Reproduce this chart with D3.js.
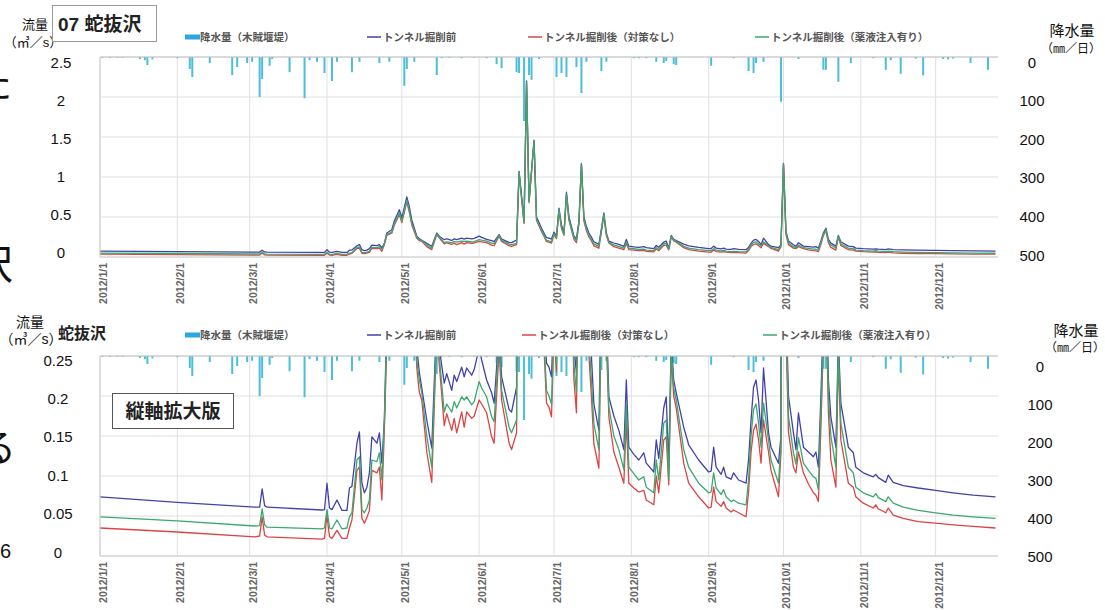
<!DOCTYPE html>
<html>
<head>
<meta charset="utf-8">
<script src="https://cdn.jsdelivr.net/npm/d3@7"></script>
<style>
  body { margin: 0; background: #fff; }
  svg { font-family: "Liberation Sans", "Noto Sans CJK JP", sans-serif; }
</style>
</head>
<body>
<svg id="chart" width="1105" height="610"></svg>
<script>
// day of year (0 = 2012/1/1) for the flow readings
const flowDay = [0,31,62,64,65,66,67,89,90,91,92,93,95,97,99,100,101,103,104,105,106,107,108,109,111,112,113,114,115,117,118,120,121,123,124,125,127,128,129,131,133,135,136,138,139,141,142,143,145,146,147,149,150,152,153,155,157,158,160,161,164,165,167,168,170,171,172,174,175,177,178,179,180,181,182,183,184,185,186,187,188,189,190,191,192,193,194,195,196,197,198,200,202,203,204,206,208,210,211,212,214,216,218,219,222,223,224,226,227,228,229,230,231,234,236,240,244,245,246,247,249,250,251,253,254,256,259,260,261,262,263,264,265,266,268,269,272,273,274,275,276,278,279,280,282,284,286,287,288,289,290,291,292,293,295,296,297,300,302,303,306,310,311,312,315,316,318,322,328,335,342,350,359];
// トンネル掘削前
const flowBefore = [.074,.067,.061,.061,.084,.063,.061,.0575,.058,.091,.060,.058,.070,.057,.057,.085,.087,.141,.155,.091,.079,.086,.104,.149,.141,.154,.116,.170,.30,.34,.45,.59,.49,.75,.63,.46,.26,.23,.21,.17,.135,.30,.26,.216,.228,.207,.226,.218,.236,.224,.235,.226,.233,.26,.245,.22,.204,.191,.28,.224,.183,.18,.211,1.07,.46,2.2,.71,1.46,.50,.36,.30,.241,.236,.224,.31,.26,.61,.40,.30,.81,.50,.38,.26,.229,.45,1.17,.50,.38,.30,.25,.19,.157,.55,.30,.199,.175,.157,.133,.22,.136,.127,.12,.129,.116,.105,.145,.122,.185,.199,.111,.27,.22,.204,.161,.139,.12,.105,.106,.136,.111,.102,.111,.099,.096,.104,.095,.091,.12,.17,.211,.22,.195,.154,.235,.154,.136,.116,.15,1.17,.32,.20,.154,.133,.179,.136,.13,.124,.13,.111,.20,.30,.36,.22,.174,.136,.27,.191,.136,.129,.111,.104,.099,.102,.098,.092,.101,.092,.088,.085,.082,.079,.076,.074];
// トンネル掘削後（薬液注入有り）
const flowGrout = [.049,.044,.0375,.038,.059,.039,.036,.034,.035,.058,.035,.034,.045,.034,.035,.049,.054,.120,.124,.058,.054,.060,.070,.120,.118,.129,.095,.170,.28,.31,.42,.55,.45,.71,.58,.42,.245,.22,.204,.15,.111,.29,.25,.18,.19,.18,.193,.185,.199,.195,.199,.189,.193,.218,.21,.199,.174,.168,.27,.207,.161,.154,.17,1.06,.43,2.18,.69,1.45,.47,.33,.27,.207,.20,.19,.29,.24,.59,.37,.28,.79,.47,.35,.24,.204,.43,1.16,.47,.35,.27,.22,.165,.133,.53,.28,.186,.15,.133,.108,.19,.111,.103,.095,.099,.086,.079,.12,.095,.166,.17,.095,.26,.21,.195,.133,.111,.091,.079,.08,.104,.085,.077,.083,.074,.068,.07,.066,.064,.095,.15,.183,.19,.166,.136,.191,.145,.12,.091,.14,1.16,.30,.175,.129,.115,.148,.116,.107,.099,.097,.083,.18,.28,.34,.20,.15,.111,.26,.166,.111,.104,.086,.079,.074,.078,.073,.068,.074,.066,.061,.057,.054,.051,.049,.047];
// トンネル掘削後（対策なし）
const flowNoMeasure = [.035,.030,.024,.025,.049,.026,.024,.021,.022,.051,.024,.022,.032,.022,.022,.035,.045,.107,.111,.047,.041,.048,.057,.107,.104,.111,.070,.157,.27,.30,.40,.53,.43,.69,.56,.40,.235,.205,.195,.13,.092,.28,.24,.163,.178,.157,.172,.154,.18,.161,.18,.172,.175,.195,.19,.179,.149,.141,.26,.195,.141,.133,.154,1.05,.42,2.17,.68,1.44,.46,.32,.26,.191,.186,.174,.28,.23,.58,.36,.27,.78,.46,.34,.22,.179,.42,1.15,.45,.33,.25,.20,.14,.11,.52,.27,.174,.13,.111,.091,.17,.091,.085,.08,.082,.07,.064,.10,.079,.145,.149,.089,.25,.20,.185,.116,.091,.074,.06,.061,.086,.068,.062,.068,.06,.055,.0575,.054,.049,.08,.13,.157,.165,.145,.116,.17,.13,.107,.074,.13,1.15,.28,.155,.111,.104,.13,.104,.09,.079,.076,.068,.16,.27,.33,.18,.12,.086,.25,.145,.091,.086,.074,.066,.06,.064,.059,.054,.06,.051,.047,.043,.041,.039,.037,.035];

// 降水量（木賊堰堤） day of year and mm/day
const rainDay = [1,4,7,9,16,18,19,21,31,36,37,44,53,55,59,61,64,65,68,69,76,82,84,87,90,93,95,101,104,112,116,122,123,126,135,137,140,145,150,155,159,161,167,168,170,172,173,176,183,185,187,191,193,195,201,203,214,216,219,223,226,227,230,231,245,254,260,262,263,266,273,280,290,291,296,301,310,315,317,321,327,330,338,340,342,349,356];
const rainMm = [2,2,2,2,5,8,20,6,3,30,50,15,45,25,15,12,100,55,22,5,38,103,8,12,40,60,12,38,12,15,12,72,30,12,45,3,2,3,2,3,18,28,38,40,160,45,57,5,50,40,50,25,90,12,35,12,3,3,3,12,15,10,18,20,22,3,35,40,15,12,112,5,32,32,62,15,3,32,8,42,4,46,5,6,4,15,32];

const legendLabels = ["降水量（木賊堰堤）", "トンネル掘削前", "トンネル掘削後（対策なし）", "トンネル掘削後（薬液注入有り）"];
const fullFlowTicks = [0, 0.5, 1, 1.5, 2, 2.5];
const zoomFlowTicks = [0, 0.05, 0.1, 0.15, 0.2, 0.25];
const rainTicks = [0, 100, 200, 300, 400, 500];

const colors = {rain: "#4cbfd8", rainKey: "#2aa7df", before: "#4242a8", none: "#dc4444", grout: "#3aa870"};

const svg = d3.select("#chart");
const start = new Date(2012, 0, 1);
const toDate = d => d3.timeDay.offset(start, d);

const x = d3.scaleTime()
  .domain([start, toDate(360)])
  .range([100, 998]);
const months = d3.timeMonth.range(start, new Date(2012, 11, 2));

const series = [
  {key: "before", values: flowBefore, color: colors.before},
  {key: "none", values: flowNoMeasure, color: colors.none},
  {key: "grout", values: flowGrout, color: colors.grout}
];

const panels = [
  {top: 57, bottom: 257, max: 2.5, ticks: fullFlowTicks, leftLab: [252, 62], leftX: 61,
   rightLab: [62, 255], rightX: 1032, legendY: 37, legX: [185, 367, 528, 755],
   unitX: [35, 33], unitY: [24, 42], unitSize: 13, rUnitX: 1072, rUnitY: [30, 49]},
  {top: 356, bottom: 556, max: 0.25, ticks: zoomFlowTicks, leftLab: [552, 360], leftX: 58,
   rightLab: [366, 556], rightX: 1040, legendY: 335, legX: [185, 367, 522, 763],
   unitX: [30, 31], unitY: [322, 339], unitSize: 14, rUnitX: 1076, rUnitY: [330, 348]}
];

panels.forEach((p, i) => {
  const g = svg.append("g");
  const y = d3.scaleLinear().domain([0, p.max]).range([p.bottom, p.top]);
  const rain = d3.scaleLinear().domain([0, 500]).range([p.top, p.bottom]);
  const yLab = d3.scaleLinear().domain([0, p.max]).range(p.leftLab);
  const rLab = d3.scaleLinear().domain([0, 500]).range(p.rightLab);

  const clipId = "clip" + i;
  svg.append("clipPath").attr("id", clipId)
    .append("rect")
    .attr("x", 100).attr("y", p.top)
    .attr("width", 898).attr("height", p.bottom - p.top);

  // grid
  g.selectAll(".hg").data(p.ticks).join("line")
    .attr("x1", 100).attr("x2", 998)
    .attr("y1", d => y(d)).attr("y2", d => y(d))
    .attr("stroke", "#e0e0e0");
  g.selectAll(".vg").data(months).join("line")
    .attr("x1", d => x(d)).attr("x2", d => x(d))
    .attr("y1", p.top).attr("y2", p.bottom)
    .attr("stroke", "#e0e0e0");

  // rainfall bars hanging from the top
  g.append("g").selectAll("rect").data(rainDay).join("rect")
    .attr("x", d => x(toDate(d)) - 1)
    .attr("y", p.top)
    .attr("width", 2)
    .attr("height", (d, j) => rain(rainMm[j]) - p.top)
    .attr("fill", colors.rain);

  // flow lines
  const line = d3.line()
    .x((d, j) => x(toDate(flowDay[j])))
    .y(d => y(d));
  g.append("g").attr("clip-path", `url(#${clipId})`)
    .selectAll("path").data(series).join("path")
    .attr("d", s => line(s.values))
    .attr("fill", "none")
    .attr("stroke", s => s.color)
    .attr("stroke-width", 1.3)
    .attr("stroke-linejoin", "round");

  // frame
  g.append("line").attr("x1", 100).attr("x2", 998).attr("y1", p.top).attr("y2", p.top).attr("stroke", "#c4c4c4");
  g.append("line").attr("x1", 100).attr("x2", 998).attr("y1", p.bottom).attr("y2", p.bottom).attr("stroke", "#cfcfcf");
  g.append("line").attr("x1", 100).attr("x2", 100).attr("y1", p.top).attr("y2", p.bottom).attr("stroke", "#cfcfcf");

  // left axis labels
  g.selectAll(".yl").data(p.ticks).join("text")
    .attr("x", p.leftX).attr("y", d => yLab(d))
    .attr("text-anchor", "middle").attr("dominant-baseline", "central")
    .attr("font-size", 15).attr("fill", "#111")
    .text(d => String(d));

  // right axis labels
  g.selectAll(".rl").data(rainTicks).join("text")
    .attr("x", p.rightX).attr("y", d => rLab(d))
    .attr("text-anchor", "middle").attr("dominant-baseline", "central")
    .attr("font-size", 15).attr("fill", "#111")
    .text(d => d);

  // month labels
  g.selectAll(".xl").data(months).join("text")
    .attr("transform", d => `translate(${x(d) + 3},${p.bottom + 6}) rotate(-90)`)
    .attr("text-anchor", "end").attr("dominant-baseline", "central")
    .attr("font-size", 10.5).attr("font-weight", "bold").attr("fill", "#666")
    .text(d3.timeFormat("%Y/%-m/%-d"));

  // unit labels
  g.append("text").attr("x", p.unitX[0]).attr("y", p.unitY[0])
    .attr("text-anchor", "middle").attr("dominant-baseline", "central")
    .attr("font-size", p.unitSize).attr("fill", "#111").text("流量");
  g.append("text").attr("x", p.unitX[1]).attr("y", p.unitY[1])
    .attr("text-anchor", "middle").attr("dominant-baseline", "central")
    .attr("font-size", p.unitSize).attr("fill", "#111").text("（㎥／s）");
  g.append("text").attr("x", p.rUnitX).attr("y", p.rUnitY[0])
    .attr("text-anchor", "middle").attr("dominant-baseline", "central")
    .attr("font-size", 15).attr("fill", "#111").text("降水量");
  g.append("text").attr("x", p.rUnitX - 1).attr("y", p.rUnitY[1])
    .attr("text-anchor", "middle").attr("dominant-baseline", "central")
    .attr("font-size", 12).attr("fill", "#111").text("（㎜／日）");

  // legend
  const lg = g.append("g").attr("font-size", 10.5).attr("font-weight", "bold").attr("fill", "#555");
  lg.append("rect").attr("x", p.legX[0]).attr("y", p.legendY - 2.5)
    .attr("width", 15).attr("height", 5).attr("fill", colors.rainKey);
  lg.append("text").attr("x", p.legX[0] + 15).attr("y", p.legendY)
    .attr("dominant-baseline", "central").text(legendLabels[0]);
  [colors.before, colors.none, colors.grout].forEach((c, k) => {
    const lx = p.legX[k + 1];
    lg.append("line").attr("x1", lx).attr("x2", lx + 14)
      .attr("y1", p.legendY).attr("y2", p.legendY)
      .attr("stroke", c).attr("stroke-width", 1.5);
    lg.append("text").attr("x", lx + 16).attr("y", p.legendY)
      .attr("dominant-baseline", "central").text(legendLabels[k + 1]);
  });
});

// title box for the full-scale chart
svg.append("rect").attr("x", 52.5).attr("y", 5.5).attr("width", 104).attr("height", 36)
  .attr("fill", "#fff").attr("stroke", "#9a9a9a");
svg.append("text").attr("x", 58).attr("y", 24)
  .attr("dominant-baseline", "central").attr("font-size", 19).attr("font-weight", "bold")
  .attr("fill", "#222").text("07 蛇抜沢");

// station name and zoom note for the lower chart
svg.append("text").attr("x", 58).attr("y", 333)
  .attr("dominant-baseline", "central").attr("font-size", 16).attr("font-weight", "bold")
  .attr("fill", "#222").text("蛇抜沢");
svg.append("rect").attr("x", 112.5).attr("y", 393.5).attr("width", 121).attr("height", 35)
  .attr("fill", "#fff").attr("stroke", "#555");
svg.append("text").attr("x", 173).attr("y", 411)
  .attr("text-anchor", "middle").attr("dominant-baseline", "central")
  .attr("font-size", 19).attr("font-weight", "bold").attr("fill", "#222").text("縦軸拡大版");

// clipped body text from the page beside the figure
const side = svg.append("g").attr("font-family", "Noto Sans CJK JP").attr("fill", "#111");
side.append("text").attr("x", -26).attr("y", 80).attr("dominant-baseline", "central").attr("font-size", 38).text("た");
side.append("text").attr("x", -27).attr("y", 262).attr("dominant-baseline", "central").attr("font-size", 40).text("沢");
side.append("text").attr("x", -22).attr("y", 444).attr("dominant-baseline", "central").attr("font-size", 38).text("る");
side.append("text").attr("x", 0).attr("y", 551).attr("dominant-baseline", "central").attr("font-size", 20)
  .attr("font-family", "Liberation Sans").text("6");
</script>
</body>
</html>
